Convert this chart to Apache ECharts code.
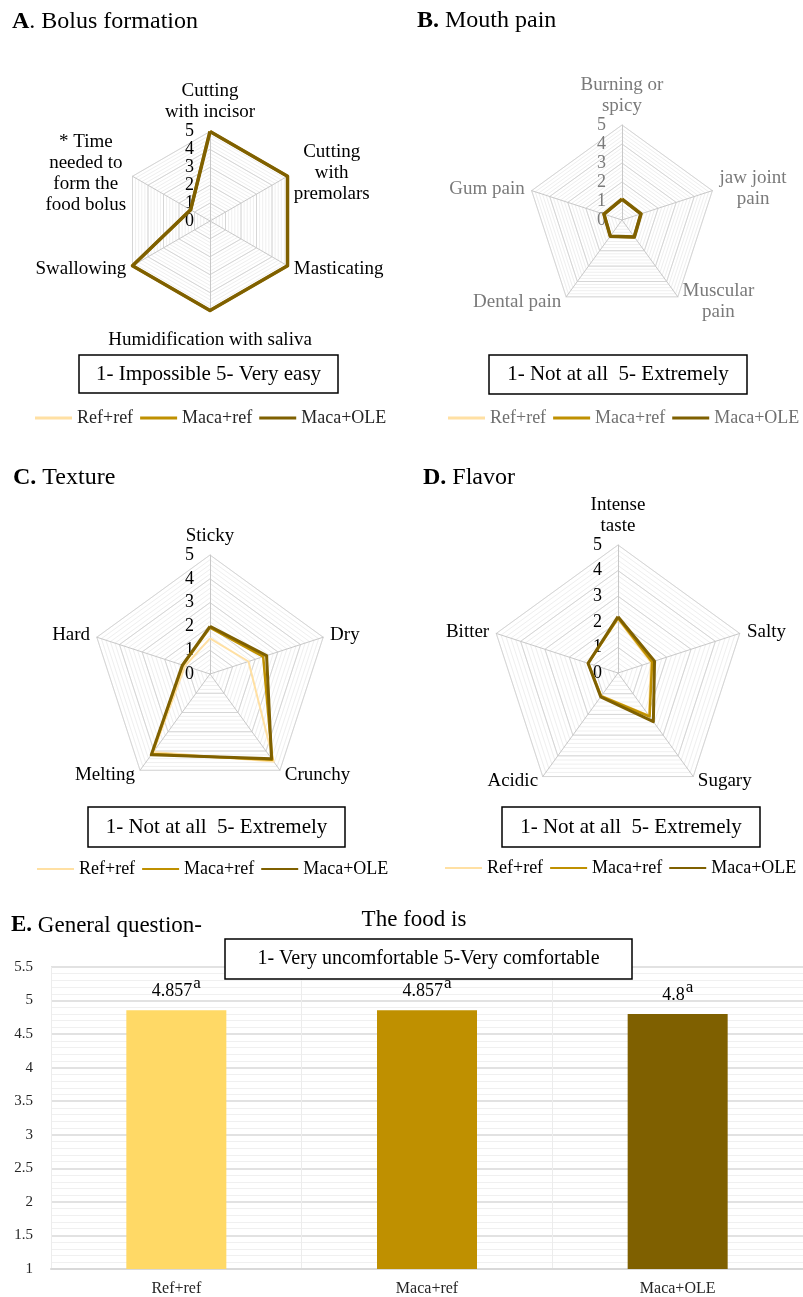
<!DOCTYPE html>
<html>
<head>
<meta charset="utf-8">
<script src="https://cdn.jsdelivr.net/npm/echarts@6/dist/echarts.min.js"></script>
<style>
  html, body { margin: 0; padding: 0; background: #ffffff; }
  #chart { width: 803px; height: 1297px; }
</style>
</head>
<body>
<div id="chart"></div>
<script>
// Treatment groups and their colours
const groups = ['Ref+ref', 'Maca+ref', 'Maca+OLE'];
const lineColors = ['#FFE0A3', '#BF9000', '#7F6000'];
const barColors = ['#FFD966', '#BF9000', '#7F6000'];

// A. Bolus formation (axes listed clockwise from the top)
const bolusAxes = ['Cutting\nwith incisor', 'Cutting\nwith\npremolars', 'Masticating',
  'Humidification with saliva', 'Swallowing', '* Time\nneeded to\nform the\nfood bolus'];
const bolusRefRef = [5, 5, 5, 5, 5, 1.25];
const bolusMacaRef = [5, 5, 5, 5, 5, 1.25];
const bolusMacaOle = [5, 5, 5, 5, 5, 1.25];

// B. Mouth pain
const painAxes = ['Burning or\nspicy', 'jaw joint\npain', 'Muscular\npain', 'Dental pain', 'Gum pain'];
const painRefRef = [1.1, 1.05, 1.1, 1.05, 1.0];
const painMacaRef = [1.1, 1.05, 1.1, 1.05, 1.0];
const painMacaOle = [1.1, 1.05, 1.1, 1.05, 1.0];

// C. Texture
const textureAxes = ['Sticky', 'Dry', 'Crunchy', 'Melting', 'Hard'];
const textureRefRef = [1.5, 1.7, 4.55, 4.05, 1.1];
const textureMacaRef = [1.95, 2.35, 4.45, 4.15, 1.2];
const textureMacaOle = [2.0, 2.5, 4.4, 4.2, 1.22];

// D. Flavor
const flavorAxes = ['Intense\ntaste', 'Salty', 'Sugary', 'Acidic', 'Bitter'];
const flavorRefRef = [2.1, 1.35, 2.05, 1.1, 1.25];
const flavorMacaRef = [2.15, 1.4, 2.1, 1.12, 1.22];
const flavorMacaOle = [2.2, 1.5, 2.35, 1.15, 1.23];

// E. General question (bar chart)
const barValues = [4.857, 4.857, 4.8];
const barLetters = ['a', 'a', 'a'];

const SERIF = '"Liberation Serif", "Times New Roman", serif';
const NAME_SIZE = 19;

// Width of the longest line of a multi-line label, used to centre its lines
const measureCtx = document.createElement('canvas').getContext('2d');
function blockWidth(text, size) {
  measureCtx.font = size + 'px ' + SERIF;
  return Math.max.apply(null, text.split('\n').map(s => measureCtx.measureText(s).width));
}

// ECharts lays radar indicators counter-clockwise; keep the first (top) one and reverse the rest
const ccw = arr => [arr[0]].concat(arr.slice(1).reverse());

function indicators(names, labelColor, extra) {
  const list = names.map((n, i) => Object.assign({ name: n, min: 0, max: 5 }, (extra && extra[i]) || {}));
  list[0].axisLabel = { show: true, color: labelColor, fontSize: 18, fontFamily: SERIF, margin: 16 };
  return ccw(list);
}

function majorRadar(center, radius, names, nameColor, extra) {
  const rich = {};
  names.forEach((n, i) => {
    rich['n' + i] = {
      width: Math.ceil(blockWidth(n, NAME_SIZE)) + 2, align: 'center',
      color: nameColor, fontSize: NAME_SIZE, fontFamily: SERIF, lineHeight: 21
    };
  });
  return {
    z: 1,
    center: center, radius: radius, shape: 'polygon', splitNumber: 5,
    indicator: indicators(names, nameColor, extra),
    nameGap: 6,
    axisName: {
      color: nameColor, fontSize: NAME_SIZE, fontFamily: SERIF, lineHeight: 21,
      formatter: name => '{n' + names.indexOf(name) + '|' + name + '}',
      rich: rich
    },
    axisLabel: { show: false },
    axisLine: { lineStyle: { color: '#c8c8c8', width: 1 } },
    axisTick: { show: false },
    splitLine: { lineStyle: { color: '#d6d6d6', width: 1 } },
    splitArea: { show: false }
  };
}

function minorRadar(center, radius, count) {
  const ind = [];
  for (let i = 0; i < count; i++) ind.push({ name: '', min: 0, max: 5 });
  return {
    z: 0,
    center: center, radius: radius, shape: 'polygon', splitNumber: 25,
    indicator: ind,
    axisName: { show: false },
    axisLabel: { show: false },
    axisLine: { show: false },
    axisTick: { show: false },
    splitLine: { lineStyle: { color: '#efefef', width: 1 } },
    splitArea: { show: false }
  };
}

function radarSeries(radarIndex, sets, widths) {
  return {
    type: 'radar', radarIndex: radarIndex, symbol: 'none', silent: true,
    data: groups.map((g, k) => ({
      name: g,
      value: ccw(sets[k]),
      lineStyle: { color: lineColors[k], width: widths[k] },
      itemStyle: { color: lineColors[k] }
    }))
  };
}

function legendAt(left, top, textColor, iconHeight) {
  return {
    data: groups, left: left, top: top, icon: 'rect', orient: 'horizontal',
    width: 380,
    itemWidth: 37, itemHeight: iconHeight, itemGap: 7, padding: 0,
    selectedMode: false,
    textStyle: { color: textColor, fontSize: 18, fontFamily: SERIF }
  };
}

function boxedText(x, y, w, h, text, size) {
  return [
    { type: 'rect', shape: { x: x, y: y, width: w, height: h },
      style: { fill: '#ffffff', stroke: '#000000', lineWidth: 1.5 }, z: 10 },
    { type: 'text', x: x + w / 2, y: y + h / 2, z: 11,
      style: { text: text, fill: '#000000', font: size + 'px ' + SERIF, align: 'center', verticalAlign: 'middle' } }
  ];
}

const chart = echarts.init(document.getElementById('chart'), null, { renderer: 'canvas' });

const titleStyle = (size) => ({
  fontSize: size, fontFamily: SERIF, fontWeight: 'normal', color: '#000000',
  rich: { b: { fontSize: size, fontFamily: SERIF, fontWeight: 'bold', color: '#000000' } }
});

const option = {
  backgroundColor: '#ffffff',
  animation: false,
  title: [
    { text: '{b|A}. Bolus formation', left: 12, top: 10, padding: 0, textStyle: titleStyle(24) },
    { text: '{b|B.} Mouth pain', left: 417, top: 9, padding: 0, textStyle: titleStyle(24) },
    { text: '{b|C.} Texture', left: 13, top: 466, padding: 0, textStyle: titleStyle(24) },
    { text: '{b|D.} Flavor', left: 423, top: 466, padding: 0, textStyle: titleStyle(24) },
    { text: '{b|E.} General question-', left: 11, top: 914, padding: 0, textStyle: titleStyle(23) }
  ],
  radar: [
    majorRadar([210, 221], 89.5, bolusAxes, '#000000', { 0: { nameGap: 9 }, 3: { nameGap: 19 } }),
    majorRadar([622, 220], 95, painAxes, '#7a7a7a', { 0: { nameGap: 7 } }),
    majorRadar([210, 674], 119, textureAxes, '#000000', { 0: { nameGap: 4 } }),
    majorRadar([618, 673], 128, flavorAxes, '#000000', { 0: { nameGap: 5 } }),
    minorRadar([210, 221], 89.5, 6),
    minorRadar([622, 220], 95, 5),
    minorRadar([210, 674], 119, 5),
    minorRadar([618, 673], 128, 5)
  ],
  legend: [
    legendAt(35, 409, '#262626', 3),
    legendAt(448, 409, '#6f6f6f', 3),
    legendAt(37, 860, '#000000', 2),
    legendAt(445, 859, '#000000', 2)
  ],
  grid: { left: 51, right: 0, top: 967, bottom: 26 },
  xAxis: {
    type: 'category', data: groups,
    axisLine: { lineStyle: { color: '#d9d9d9', width: 2 } },
    axisTick: { show: false },
    axisLabel: { color: '#262626', fontSize: 16, fontFamily: SERIF, margin: 12 },
    splitLine: { show: true, lineStyle: { color: '#ececec', width: 1 } }
  },
  yAxis: {
    type: 'value', min: 1, max: 5.5, interval: 0.5,
    axisLine: { show: false }, axisTick: { show: false },
    axisLabel: { color: '#262626', fontSize: 15, fontFamily: SERIF, margin: 18 },
    splitLine: { lineStyle: { color: '#d9d9d9', width: 1.5 } },
    minorTick: { show: false, splitNumber: 5 },
    minorSplitLine: { show: true, lineStyle: { color: '#f0f0f0', width: 1 } }
  },
  series: [
    radarSeries(0, [bolusRefRef, bolusMacaRef, bolusMacaOle], [2.5, 3, 3.5]),
    radarSeries(1, [painRefRef, painMacaRef, painMacaOle], [2.5, 3, 3.5]),
    radarSeries(2, [textureRefRef, textureMacaRef, textureMacaOle], [2, 2.5, 3]),
    radarSeries(3, [flavorRefRef, flavorMacaRef, flavorMacaOle], [2, 2.5, 3]),
    {
      type: 'bar', barWidth: 100, silent: true,
      data: barValues.map((v, i) => ({ value: v, itemStyle: { color: barColors[i] } })),
      label: {
        show: true, position: 'top', distance: 2,
        formatter: p => '{v|' + p.value + '}{s|' + barLetters[p.dataIndex] + '}',
        rich: {
          v: { fontSize: 18, fontFamily: SERIF, color: '#000000' },
          s: { fontSize: 17, fontFamily: SERIF, color: '#000000', padding: [0, 0, 16, 1] }
        }
      }
    }
  ],
  graphic: [].concat(
    boxedText(79, 355, 259, 38, '1- Impossible 5- Very easy', 21),
    boxedText(489, 355, 258, 39, '1- Not at all\u00a0\u00a05- Extremely', 21),
    boxedText(88, 807, 257, 40, '1- Not at all\u00a0\u00a05- Extremely', 21),
    boxedText(502, 807, 258, 40, '1- Not at all\u00a0\u00a05- Extremely', 21),
    boxedText(225, 939, 407, 40, '1- Very uncomfortable 5-Very comfortable', 20),
    [{ type: 'text', x: 414, y: 920, z: 11,
       style: { text: 'The food is', fill: '#000000', font: '23px ' + SERIF, align: 'center', verticalAlign: 'middle' } }]
  )
};

chart.setOption(option);
</script>
</body>
</html>
